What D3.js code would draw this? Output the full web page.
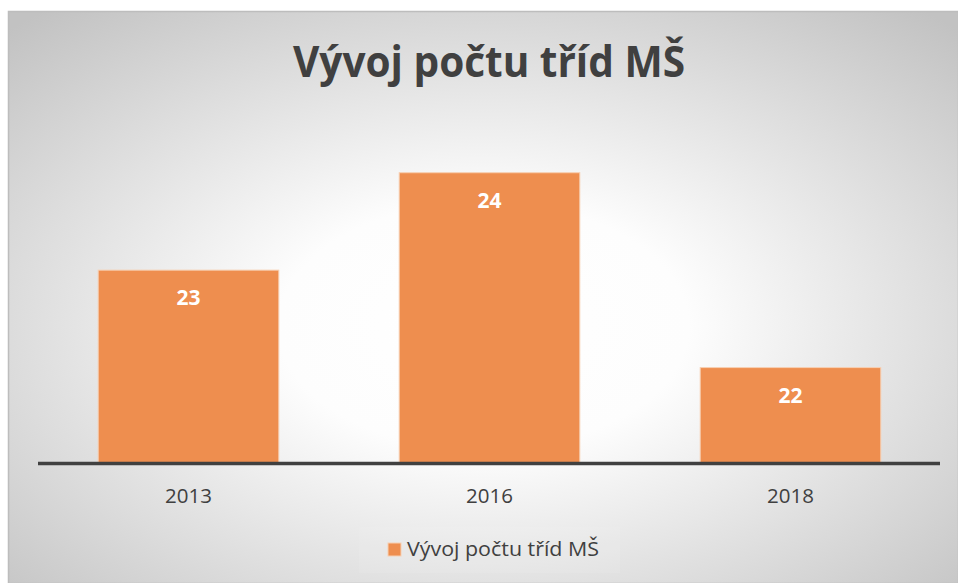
<!DOCTYPE html>
<html>
<head>
<meta charset="utf-8">
<script src="https://cdn.jsdelivr.net/npm/d3@7"></script>
<style>
  html, body { margin: 0; padding: 0; background: #fff; }
  svg { display: block; font-family: "Open Sans", "DejaVu Sans", sans-serif; }
</style>
</head>
<body>
<svg id="chart" width="958" height="583"></svg>
<script>
// data
const years = ["2013", "2016", "2018"];
const classCounts = [23, 24, 22];
const seriesName = "Vývoj počtu tříd MŠ";
const chartTitle = "Vývoj počtu tříd MŠ";

const W = 958, H = 583;
const svg = d3.select("#chart");

// background gradient
const defs = svg.append("defs");
const grad = defs.append("radialGradient").attr("id", "bg")
  .attr("cx", 0.5).attr("cy", 0.55).attr("r", 0.72);
grad.append("stop").attr("offset", 0).attr("stop-color", "#ffffff");
grad.append("stop").attr("offset", 0.3).attr("stop-color", "#fdfdfd");
grad.append("stop").attr("offset", 1).attr("stop-color", "#c2c2c2");

svg.append("rect")
  .attr("x", 8.5).attr("y", 11.5).attr("width", W - 8).attr("height", H - 11)
  .attr("fill", "url(#bg)")
  .attr("stroke", "#bdbdbd").attr("stroke-width", 1.5);

// scales
const x = d3.scaleBand().domain(years).range([38, 941]).paddingInner(0.4).paddingOuter(0.2);
const y = d3.scaleLinear().domain([21, 24.5]).range([465, 124]);
const axisY = 463.5;

// title
svg.append("text")
  .attr("x", 489).attr("y", 77)
  .attr("text-anchor", "middle")
  .attr("font-size", 43).attr("font-weight", 700)
  .attr("fill", "#404040")
  .attr("textLength", 392).attr("lengthAdjust", "spacingAndGlyphs")
  .text(chartTitle);

// bars
const data = years.map((yr, i) => ({ yr, v: classCounts[i] }));
svg.append("g").selectAll("rect").data(data).join("rect")
  .attr("x", d => x(d.yr))
  .attr("y", d => y(d.v))
  .attr("width", x.bandwidth())
  .attr("height", d => axisY - y(d.v))
  .attr("fill", "#ee8e4f")
  .attr("stroke", "#f7cfb2").attr("stroke-width", 1);

// value labels
svg.append("g").selectAll("text").data(data).join("text")
  .attr("x", d => x(d.yr) + x.bandwidth() / 2)
  .attr("y", d => y(d.v) + 35)
  .attr("text-anchor", "middle")
  .attr("font-size", 21).attr("font-weight", 700)
  .attr("fill", "#ffffff")
  .text(d => d.v);

// x axis
const xAxis = svg.append("g").attr("transform", `translate(0,${axisY})`)
  .call(d3.axisBottom(x).tickSize(0).tickPadding(0));
xAxis.select(".domain").remove();
xAxis.append("line")
  .attr("x1", 38).attr("x2", 940)
  .attr("stroke", "#404040").attr("stroke-width", 3.5);
xAxis.selectAll(".tick text")
  .attr("y", 39.5).attr("dy", null)
  .attr("font-family", "Open Sans, sans-serif")
  .attr("font-size", 20.5)
  .attr("fill", "#404040");

// legend
const lg = svg.append("g");
lg.append("rect")
  .attr("x", 359).attr("y", 527).attr("width", 261).attr("height", 46)
  .attr("fill", "#ffffff").attr("opacity", 0.08);
lg.append("rect")
  .attr("x", 388).attr("y", 543).attr("width", 13).attr("height", 13)
  .attr("fill", "#ee8e4f").attr("stroke", "#f7cfb2").attr("stroke-width", 1);
lg.append("text")
  .attr("x", 407).attr("y", 556)
  .attr("font-size", 20.5)
  .attr("fill", "#404040")
  .attr("textLength", 192).attr("lengthAdjust", "spacingAndGlyphs")
  .text(seriesName);
</script>
</body>
</html>
